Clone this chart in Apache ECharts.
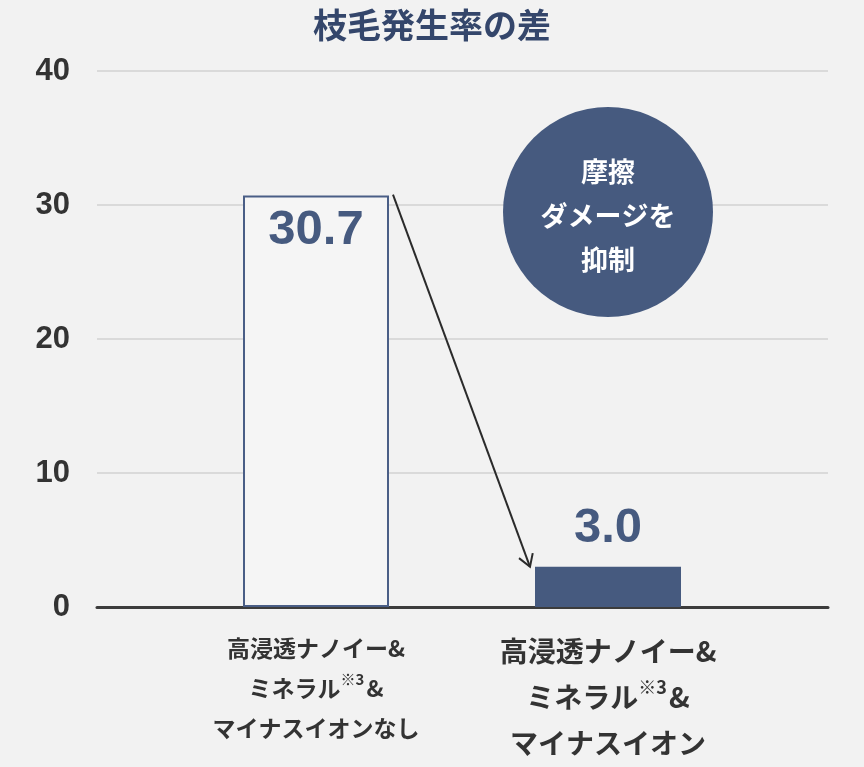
<!DOCTYPE html>
<html lang="ja">
  <head>
    <meta charset="utf-8">
    <title>枝毛発生率の差</title>
    <script src="https://cdn.jsdelivr.net/npm/echarts@6/dist/echarts.min.js"></script>
    <style>
      html, body { margin: 0; padding: 0; background: #f2f2f2; }
      #chart { width: 864px; height: 767px; }
    </style>
  </head>
  <body>
    <div id="chart"></div>
    <script type="text/javascript">
        // データ
        var titleText = '枝毛発生率の差';
        var categories = [
            '高浸透ナノイー&\nミネラル※3&\nマイナスイオンなし',
            '高浸透ナノイー&\nミネラル※3&\nマイナスイオン'
        ];
        var values = [30.7, 3.0];
        var badgeText = '摩擦\nダメージを\n抑制';

        var navy = '#465a7f';
        var font = '"Liberation Sans", "Noto Sans CJK JP", sans-serif';
        var jpFont = '"Noto Sans CJK JP", sans-serif';
        var barWidth = 146;

        var myChart = echarts.init(document.getElementById('chart'));

        myChart.setOption({
            backgroundColor: '#f2f2f2',
            title: {
                text: titleText,
                left: 'center',
                top: 3,
                textStyle: {
                    fontFamily: jpFont,
                    fontWeight: 'bold',
                    fontSize: 34,
                    color: '#34466b'
                }
            },
            grid: [
                { left: 97, right: 36, top: 71, bottom: 160 },
                { left: 170, right: 110, top: 71, bottom: 160 }
            ],
            xAxis: [{
                gridIndex: 0,
                type: 'category',
                data: [],
                axisLine: { lineStyle: { color: '#3c3c3c', width: 3 } },
                axisTick: { show: false },
                axisLabel: { show: false }
            }, {
                gridIndex: 1,
                type: 'category',
                data: categories,
                axisLine: { show: false },
                axisTick: { show: false },
                axisLabel: {
                    interval: 0,
                    margin: 21,
                    color: '#333',
                    formatter: function (value, index) {
                        var s = index === 0 ? 'a' : 'b';
                        return value.split('\n').map(function (line) {
                            return line.split('※3').map(function (p) {
                                return p ? '{' + s + '|' + p + '}' : '';
                            }).join('{' + s + 's|※3}');
                        }).join('\n');
                    },
                    rich: {
                        a: { fontFamily: jpFont, fontWeight: 'bold', fontSize: 23, lineHeight: 40, color: '#333' },
                        as: { fontFamily: jpFont, fontWeight: 'bold', fontSize: 15, lineHeight: 40, color: '#333', verticalAlign: 'top', padding: [4, 2, 0, 0] },
                        b: { fontFamily: jpFont, fontWeight: 'bold', fontSize: 28, lineHeight: 46, color: '#333' },
                        bs: { fontFamily: jpFont, fontWeight: 'bold', fontSize: 18, lineHeight: 46, color: '#333', verticalAlign: 'top', padding: [4, 2, 0, 0] }
                    }
                }
            }],
            yAxis: [{
                gridIndex: 0,
                type: 'value',
                min: 0,
                max: 40,
                interval: 10,
                axisLine: { show: false },
                axisTick: { show: false },
                axisLabel: {
                    margin: 27,
                    color: '#333',
                    fontFamily: font,
                    fontWeight: 'bold',
                    fontSize: 31
                },
                splitLine: { lineStyle: { color: '#d2d2d2', width: 1.5 } }
            }, {
                gridIndex: 1,
                type: 'value',
                min: 0,
                max: 40,
                interval: 10,
                show: false
            }],
            series: [{
                type: 'bar',
                xAxisIndex: 1,
                yAxisIndex: 1,
                barWidth: barWidth,
                data: values.map(function (v, i) {
                    if (i === 0) {
                        return {
                            value: v,
                            itemStyle: { color: '#f5f5f5', borderColor: '#4a5e86', borderWidth: 2 },
                            label: { position: 'insideTop', distance: 10 }
                        };
                    }
                    return { value: v, itemStyle: { color: navy } };
                }),
                label: {
                    show: true,
                    position: 'top',
                    distance: 14,
                    color: navy,
                    fontFamily: font,
                    fontWeight: 'bold',
                    fontSize: 49,
                    formatter: function (p) { return p.value.toFixed(1); }
                }
            }]
        });

        // 矢印と丸い注記
        function drawExtras() {
            var a = myChart.convertToPixel({ xAxisIndex: 1, yAxisIndex: 1 }, [0, values[0]]);
            var b = myChart.convertToPixel({ xAxisIndex: 1, yAxisIndex: 1 }, [1, values[1]]);
            var x1 = a[0] + barWidth / 2 + 4, y1 = a[1] - 1;
            var x2 = b[0] - barWidth / 2 - 5, y2 = b[1];
            var ang = Math.atan2(y2 - y1, x2 - x1);
            var hl = 14, spread = 0.55;
            var head = [
                [x2 - hl * Math.cos(ang - spread), y2 - hl * Math.sin(ang - spread)],
                [x2, y2],
                [x2 - hl * Math.cos(ang + spread), y2 - hl * Math.sin(ang + spread)]
            ];
            myChart.setOption({
                graphic: [{
                    type: 'line',
                    shape: { x1: x1, y1: y1, x2: x2, y2: y2 },
                    style: { stroke: '#2b2b2b', lineWidth: 2 }
                }, {
                    type: 'polyline',
                    shape: { points: head },
                    style: { stroke: '#2b2b2b', lineWidth: 2, fill: null }
                }, {
                    type: 'circle',
                    shape: { cx: b[0], cy: 212, r: 105 },
                    style: { fill: navy }
                }, {
                    type: 'text',
                    x: b[0],
                    y: 216,
                    style: {
                        text: badgeText,
                        fill: '#fff',
                        font: 'bold 27px ' + jpFont,
                        lineHeight: 44,
                        align: 'center',
                        verticalAlign: 'middle'
                    }
                }]
            });
        }
        drawExtras();
    </script>
  </body>
</html>
